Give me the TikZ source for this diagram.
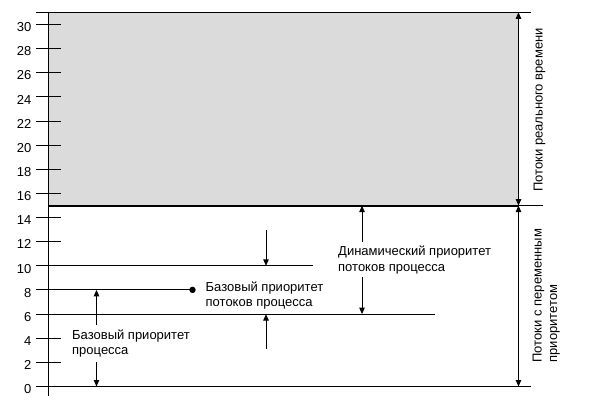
\documentclass[tikz,border=0pt]{standalone}
\usepackage{fontspec}
\setmainfont{Liberation Sans}
\usetikzlibrary{arrows.meta}
\begin{document}
\begin{tikzpicture}[x=1pt,y=-1pt,
  lbl/.style={font=\fontsize{13}{15.5}\selectfont, inner sep=0pt},
  txt/.style={lbl, align=left, anchor=base west},
  num/.style={lbl, anchor=base east},
  ln/.style={line width=0.9pt},
  arr/.style={ln, -{Triangle[width=5.5pt,length=6.5pt]}},
  darr/.style={ln, {Triangle[width=5.5pt,length=6.5pt]}-{Triangle[width=5.5pt,length=6.5pt]}}]
\useasboundingbox (0,0) rectangle (600,401);
% gray region
\fill[gray!28] (48,12.3) rectangle (518,205.6);
% axis
\draw[ln] (48,12.3) -- (48,396);
% ticks and labels
\foreach \v in {0,2,...,30}{
  \pgfmathsetmacro{\yy}{386.5-12.07*\v}
  \draw[ln] (36,\yy) -- (61,\yy);
  \node[num] (n\v) at (31.5,\yy+7.3) {\v};
}
% top and bottom lines
\draw[ln] (36,12.3) -- (531,12.3);
\draw[ln] (36,386.5) -- (531,386.5);
% thick line at 15
\draw[line width=2pt] (48,205.6) -- (518,205.6);
\draw[ln] (518,205.6) -- (543,205.6);
% levels
\draw[ln] (36,265.8) -- (313,265.8);
\coordinate (d) at (192.5,289.9);
\draw[ln] (36,289.9) -- (d);
\fill (d) circle (3.2);
\draw[ln] (36,314.1) -- (435,314.1);
% right arrows
\coordinate (rt) at (518.5,12.3);
\coordinate (rm) at (518.5,205.6);
\coordinate (rb) at (518.5,386.5);
\draw[darr] (rt) -- (rm);
\draw[darr] (rm) -- (rb);
\node[lbl, rotate=90, anchor=base] (rl1) at (542.5,110) {Потоки реального времени};
\node[lbl, rotate=90, align=left, anchor=base west] (rl2) at (557,362.7) {Потоки с переменным\\приоритетом};
% base process priority
\node[txt] (bp) at (72,354.5) {Базовый приоритет\\процесса};
\coordinate (bpa) at (96.5,325);
\coordinate (bpb) at (96.5,362);
\draw[arr] (bpa) -- (96.5,289.9);
\draw[arr] (bpb) -- (96.5,386.5);
% base thread priority
\node[txt] (bt) at (205.5,306.5) {Базовый приоритет\\потоков процесса};
\coordinate (ta) at (266,230);
\coordinate (tb) at (266,349);
\draw[arr] (ta) -- (266,265.8);
\draw[arr] (tb) -- (266,314.1);
% dynamic priority
\node[txt] (dp) at (338,271.2) {Динамический приоритет\\потоков процесса};
\coordinate (da) at (362,242);
\coordinate (db) at (362,277);
\draw[arr] (da) -- (362,205.6);
\draw[arr] (db) -- (362,314.1);
\end{tikzpicture}
\end{document}
